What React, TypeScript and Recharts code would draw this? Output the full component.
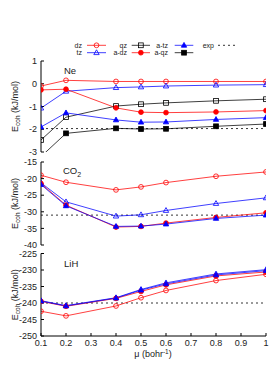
import React from "react";
import { LineChart, Line, XAxis, YAxis, ReferenceLine } from "recharts";

// mu grid (bohr^-1)
const mu = [0.1, 0.2, 0.4, 0.5, 0.6, 0.8, 1.0];
const muTicks = [0.1, 0.2, 0.3, 0.4, 0.5, 0.6, 0.7, 0.8, 0.9, 1];

// Ne
const neDz = [-0.1, 0.15, 0.1, 0.1, 0.1, 0.1, 0.1];
const neTz = [-1.07, -0.33, -0.17, -0.14, -0.1, -0.06, -0.04];
const neQz = [-2.47, -1.47, -0.98, -0.9, -0.84, -0.75, -0.68];
const neADz = [-0.27, -0.24, -1.06, -1.25, -1.27, -1.24, -1.18];
const neATz = [-1.9, -1.28, -1.59, -1.69, -1.68, -1.57, -1.49];
const neAQz = [-3.2, -2.18, -1.96, -1.99, -1.98, -1.87, -1.77];
const neExp = -1.97;
const neTicks = [1, 0, -1, -2, -3];

// CO2
const co2Dz = [-19.0, -21.1, -23.4, -22.5, -21.2, -19.3, -18.0];
const co2Tz = [-21.3, -27.0, -31.3, -30.9, -29.6, -27.5, -25.8];
const co2ADz = [-21.5, -28.0, -34.6, -34.4, -33.4, -31.7, -30.3];
const co2ATz = [-21.8, -28.2, -34.4, -34.3, -33.7, -32.0, -31.0];
const co2Exp = -31.0;
const co2Ticks = [-15, -20, -25, -30, -35, -40];

// LiH
const lihDz = [-242.5, -243.9, -240.9, -238.4, -236.2, -233.2, -231.3];
const lihTz = [-239.3, -240.8, -238.4, -235.9, -233.9, -231.2, -229.9];
const lihADz = [-239.5, -241.0, -238.6, -236.5, -234.5, -231.8, -230.6];
const lihATz = [-239.4, -240.9, -238.5, -236.1, -234.2, -231.5, -230.2];
const lihExp = -240.0;
const lihTicks = [-225, -230, -235, -240, -245, -250];

const FONT = '"Liberation Sans", Arial, sans-serif';
const TEXT = "#222";

type Shape = "circle" | "triangle" | "square";
type Series = { key: string; name: string; color: string; shape: Shape; filled: boolean };

const SERIES: Series[] = [
  { key: "dz", name: "dz", color: "#ff0000", shape: "circle", filled: false },
  { key: "tz", name: "tz", color: "#0000ff", shape: "triangle", filled: false },
  { key: "qz", name: "qz", color: "#000000", shape: "square", filled: false },
  { key: "adz", name: "a-dz", color: "#ff0000", shape: "circle", filled: true },
  { key: "atz", name: "a-tz", color: "#0000ff", shape: "triangle", filled: true },
  { key: "aqz", name: "a-qz", color: "#000000", shape: "square", filled: true },
];

function Marker({ cx, cy, s }: { cx: number; cy: number; s: Series }) {
  const fill = s.filled ? s.color : "#fff";
  const fo = s.filled ? 1 : 0;
  if (s.shape === "circle")
    return <circle cx={cx} cy={cy} r={2.4} fill={fill} fillOpacity={fo} stroke={s.color} strokeWidth={0.8} />;
  if (s.shape === "square")
    return <rect x={cx - 2.4} y={cy - 2.4} width={4.8} height={4.8} fill={fill} fillOpacity={fo} stroke={s.color} strokeWidth={0.8} />;
  return (
    <polygon
      points={`${cx},${cy - 2.9} ${cx - 2.7},${cy + 1.9} ${cx + 2.7},${cy + 1.9}`}
      fill={fill}
      fillOpacity={fo}
      stroke={s.color}
      strokeWidth={0.8}
    />
  );
}

function dotFor(s: Series) {
  return (p: any) => {
    if (p.cx == null || p.cy == null) return <g key={p.index} />;
    return (
      <g key={p.index}>
        <Marker cx={p.cx} cy={p.cy} s={s} />
      </g>
    );
  };
}

function YLabel(props: any) {
  const vb = props.viewBox || {};
  const cy = vb.y + vb.height / 2;
  const x = 18;
  return (
    <text
      x={x}
      y={cy}
      transform={`rotate(-90, ${x}, ${cy})`}
      textAnchor="middle"
      fontSize={9}
      fill={TEXT}
      fontFamily={FONT}
    >
      E<tspan fontSize={6.5} dy={2}>coh</tspan>
      <tspan dy={-2}> (kJ/mol)</tspan>
    </text>
  );
}

type PanelProps = {
  top: number;
  height: number;
  marginTop: number;
  marginBottom: number;
  cols: Record<string, number[]>;
  exp: number;
  domain: [number, number];
  yTicks: number[];
  showX?: boolean;
};

function Panel({ top, height, marginTop, marginBottom, cols, exp, domain, yTicks, showX }: PanelProps) {
  const rows = mu.map((m, i) => {
    const r: Record<string, number> = { mu: m };
    Object.keys(cols).forEach((k) => (r[k] = cols[k][i]));
    return r;
  });
  const series = SERIES.filter((s) => cols[s.key]);
  const tickStyle = { fontSize: 9, fill: TEXT, fontFamily: FONT };
  return (
    <div style={{ position: "absolute", left: 0, top, width: 275, height }}>
      <LineChart width={275} height={height} data={rows} margin={{ top: marginTop, right: 9, bottom: marginBottom, left: 0 }}>
        <XAxis
          xAxisId="b"
          dataKey="mu"
          type="number"
          domain={[0.1, 1]}
          ticks={muTicks}
          allowDataOverflow
          height={showX ? 29 : 0}
          tick={showX ? tickStyle : false}
          tickSize={-3}
          tickMargin={7}
          stroke="#000"
          tickLine={{ stroke: "#000" }}
        />
        <XAxis
          xAxisId="t"
          orientation="top"
          dataKey="mu"
          type="number"
          domain={[0.1, 1]}
          ticks={muTicks}
          allowDataOverflow
          height={0}
          tick={false}
          tickSize={-3}
          stroke="#000"
          tickLine={{ stroke: "#000" }}
        />
        <YAxis
          yAxisId="l"
          type="number"
          domain={domain}
          ticks={yTicks}
          allowDataOverflow
          interval={0}
          width={41}
          tick={tickStyle}
          tickSize={-3}
          tickMargin={7}
          stroke="#000"
          tickLine={{ stroke: "#000" }}
          label={YLabel}
        />
        <YAxis
          yAxisId="r"
          orientation="right"
          type="number"
          domain={domain}
          ticks={yTicks}
          allowDataOverflow
          width={0}
          tick={false}
          tickSize={-3}
          stroke="#000"
          tickLine={{ stroke: "#000" }}
        />
        <ReferenceLine xAxisId="b" yAxisId="l" y={exp} stroke="#000" strokeWidth={0.8} strokeDasharray="2 3" />
        {series.map((s) => (
          <Line
            key={s.key}
            xAxisId="b"
            yAxisId="l"
            dataKey={s.key}
            name={s.name}
            type="linear"
            stroke={s.color}
            strokeWidth={1}
            strokeOpacity={0.75}
            dot={dotFor(s)}
            activeDot={false}
            isAnimationActive={false}
          />
        ))}
      </LineChart>
    </div>
  );
}

function Overlay() {
  const rowY = [45.3, 52.7];
  const cols = [
    { textX: 82, x1: 87, x2: 106 },
    { textX: 127, x1: 131.7, x2: 150 },
    { textX: 168, x1: 174.7, x2: 193.3 },
  ];
  const order = [
    [SERIES[0], SERIES[1]],
    [SERIES[2], SERIES[3]],
    [SERIES[4], SERIES[5]],
  ];
  return (
    <svg width={275} height={365} style={{ position: "absolute", left: 0, top: 0, pointerEvents: "none" }} fontFamily={FONT}>
      {order.map((pair, c) =>
        pair.map((s, r) => (
          <g key={s.key}>
            <text x={cols[c].textX} y={rowY[r] + 2.5} textAnchor="end" fontSize={7} fill={TEXT}>
              {s.name}
            </text>
            <line x1={cols[c].x1} x2={cols[c].x2} y1={rowY[r]} y2={rowY[r]} stroke={s.color} strokeWidth={1} strokeOpacity={0.75} />
            <Marker cx={(cols[c].x1 + cols[c].x2) / 2} cy={rowY[r]} s={s} />
          </g>
        ))
      )}
      <text x={214} y={rowY[0] + 2.5} textAnchor="end" fontSize={7} fill={TEXT}>exp</text>
      <line x1={218} x2={238} y1={rowY[0]} y2={rowY[0]} stroke="#000" strokeWidth={0.8} strokeDasharray="2 3" />

      <text x={64} y={74} fontSize={9.5} fill={TEXT}>Ne</text>
      <text x={63} y={174} fontSize={9.5} fill={TEXT}>
        CO<tspan fontSize={7} dy={2.5}>2</tspan>
      </text>
      <text x={64} y={267} fontSize={9.5} fill={TEXT}>LiH</text>

      <text x={153} y={357} textAnchor="middle" fontSize={9} fill={TEXT}>
        μ (bohr<tspan fontSize={6.5} dy={-3.5}>-1</tspan>
        <tspan dy={3.5}>)</tspan>
      </text>
    </svg>
  );
}

export default function App() {
  return (
    <div style={{ position: "absolute", left: 0, top: 0, width: 275, height: 365, background: "#fff", fontFamily: FONT }}>
      <Panel
        top={56}
        height={100}
        marginTop={5}
        marginBottom={4}
        cols={{ dz: neDz, tz: neTz, qz: neQz, adz: neADz, atz: neATz, aqz: neAQz }}
        exp={neExp}
        domain={[-3, 1]}
        yTicks={neTicks}
      />
      <Panel
        top={157}
        height={93}
        marginTop={5}
        marginBottom={5}
        cols={{ dz: co2Dz, tz: co2Tz, adz: co2ADz, atz: co2ATz }}
        exp={co2Exp}
        domain={[-40, -15]}
        yTicks={co2Ticks}
      />
      <Panel
        top={248}
        height={117}
        marginTop={5.5}
        marginBottom={0}
        cols={{ dz: lihDz, tz: lihTz, adz: lihADz, atz: lihATz }}
        exp={lihExp}
        domain={[-250, -225]}
        yTicks={lihTicks}
        showX
      />
      <Overlay />
    </div>
  );
}
